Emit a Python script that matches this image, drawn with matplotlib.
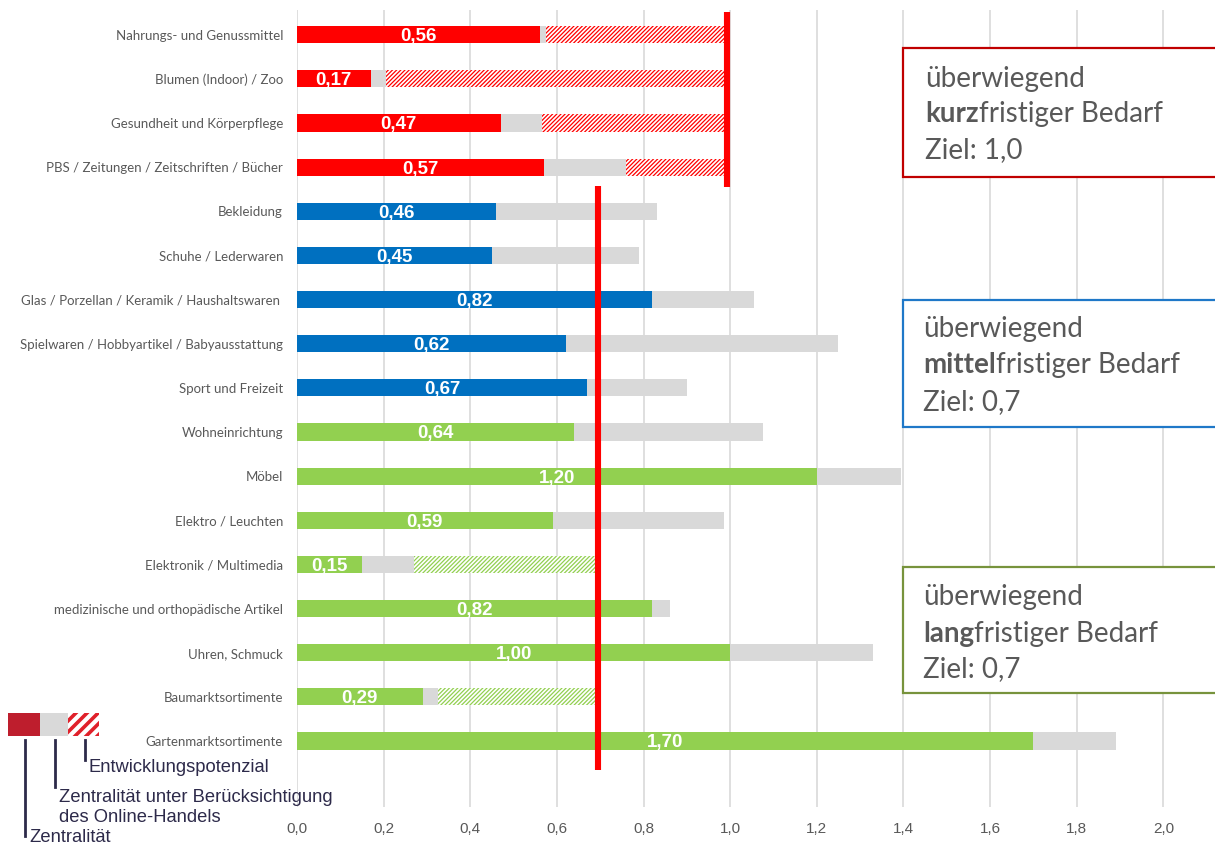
import matplotlib
matplotlib.use("Agg")
import matplotlib.pyplot as plt
from matplotlib.patches import Rectangle
from matplotlib.lines import Line2D

# ---------------- data ----------------
categories = [
    "Nahrungs- und Genussmittel",
    "Blumen (Indoor) / Zoo",
    "Gesundheit und Körperpflege",
    "PBS / Zeitungen / Zeitschriften / Bücher",
    "Bekleidung",
    "Schuhe / Lederwaren",
    "Glas / Porzellan / Keramik / Haushaltswaren ",
    "Spielwaren / Hobbyartikel / Babyausstattung",
    "Sport und Freizeit",
    "Wohneinrichtung",
    "Möbel",
    "Elektro / Leuchten",
    "Elektronik / Multimedia",
    "medizinische und orthopädische Artikel",
    "Uhren, Schmuck",
    "Baumarktsortimente",
    "Gartenmarktsortimente",
]
zentralitaet = [0.56, 0.17, 0.47, 0.57, 0.46, 0.45, 0.82, 0.62, 0.67,
                0.64, 1.20, 0.59, 0.15, 0.82, 1.00, 0.29, 1.70]
zentralitaet_online = [0.575, 0.205, 0.565, 0.76, 0.83, 0.79, 1.055, 1.25, 0.90,
                       1.075, 1.395, 0.985, 0.27, 0.86, 1.33, 0.325, 1.89]
group = ["kurz"] * 4 + ["mittel"] * 5 + ["lang"] * 8
ziel = {"kurz": 1.0, "mittel": 0.7, "lang": 0.7}
xticks = [0.0, 0.2, 0.4, 0.6, 0.8, 1.0, 1.2, 1.4, 1.6, 1.8, 2.0]

# ---------------- styles ----------------
colors = {"kurz": "#FF0000", "mittel": "#0070C0", "lang": "#92D050"}
grey = "#D9D9D9"
W, H = 1215, 848

fig = plt.figure(figsize=(W / 100, H / 100), dpi=100)
ax = fig.add_axes([297 / W, 1 - 807 / H, (W - 297) / W, (807 - 10) / H])

n = len(categories)
ypos = list(range(n))
bh = 0.39

plt.rcParams["hatch.linewidth"] = 0.9
for i in ypos:
    g = group[i]
    c = colors[g]
    v = zentralitaet[i]
    o = zentralitaet_online[i]
    t = ziel[g]
    ax.barh(i, v, height=bh, color=c, linewidth=0, zorder=3)
    ax.barh(i, o - v, left=v, height=bh, color=grey, linewidth=0, zorder=3)
    if o < t:
        ax.barh(i, t - o, left=o, height=bh, color="white", edgecolor=c,
                hatch="////////", linewidth=0, zorder=3)
    ax.text(v / 2, i, f"{v:.2f}".replace(".", ","), color="white",
            fontsize=13.5, fontweight="bold", family="Liberation Sans",
            ha="center", va="center_baseline", zorder=5)

# target lines
ax.plot([ziel["kurz"] - 0.008] * 2, [-0.52, 3.445], color="#FF0000", lw=4.4,
        solid_capstyle="butt", zorder=4)
ax.plot([ziel["lang"] - 0.005] * 2, [3.43, 16.66], color="#FF0000", lw=4.4,
        solid_capstyle="butt", zorder=4)

ax.set_xlim(0, (W - 296.7) / 433.3)
ax.set_ylim(n - 1 + 1.496, -0.56)
ax.set_xticks(xticks)
ax.set_xticklabels([f"{x:.1f}".replace(".", ",") for x in xticks],
                   family="Liberation Sans", fontsize=11, color="#595959")
ax.set_yticks(ypos)
ax.set_yticklabels(categories, family="Lato", fontsize=9.5, color="#595959")
ax.tick_params(axis="y", length=0, pad=10)
ax.tick_params(axis="x", length=0, pad=11)
ax.grid(axis="x", color="#D9D9D9", lw=1.2, zorder=0)
ax.set_axisbelow(True)
for s in ax.spines.values():
    s.set_visible(False)


def fx(px):
    return px / W


def fy(py):
    return 1 - py / H


# ---------------- boxes ----------------
boxes = [
    ("kurz", "Ziel: 1,0", "#C00000", 48.3, 177.3, 925, [87, 122, 158]),
    ("mittel", "Ziel: 0,7", "#1F78C8", 300, 426.7, 923, [336.7, 373.3, 410]),
    ("lang", "Ziel: 0,7", "#77933C", 566.7, 693.3, 923, [605, 641.7, 676.7]),
]
tcol = "#595959"
for bold, zl, ec, top, bot, tx, bl in boxes:
    fig.patches.append(Rectangle((fx(903), fy(bot)), fx(330), fy(top) - fy(bot),
                                 transform=fig.transFigure, facecolor="white",
                                 edgecolor=ec, lw=1.6, zorder=5))
    fig.text(fx(tx), fy(bl[0]), "überwiegend", family="Lato", fontsize=20,
             color=tcol, va="baseline", ha="left", zorder=6)
    tb = fig.text(fx(tx), fy(bl[1]), bold, family="Lato", fontsize=20,
                  fontweight="bold", color=tcol, va="baseline", ha="left", zorder=6)
    fig.text(fx(tx), fy(bl[2]), zl, family="Lato", fontsize=20,
             color=tcol, va="baseline", ha="left", zorder=6)
    fig.canvas.draw()
    bb = tb.get_window_extent()
    fig.text(bb.x1 / W, fy(bl[1]), "fristiger Bedarf", family="Lato", fontsize=20,
             color=tcol, va="baseline", ha="left", zorder=6)

# ---------------- legend ----------------
lcol = "#2D2A4A"
fig.patches.append(Rectangle((fx(8), fy(736)), fx(32), fy(713) - fy(736),
                             transform=fig.transFigure, facecolor="#BE1E2D",
                             lw=0, zorder=5))
fig.patches.append(Rectangle((fx(40), fy(736)), fx(28), fy(713) - fy(736),
                             transform=fig.transFigure, facecolor=grey,
                             lw=0, zorder=5))
with plt.rc_context({"hatch.linewidth": 2.6}):
    hp = Rectangle((fx(68), fy(736)), fx(31), fy(713) - fy(736),
                   transform=fig.transFigure, facecolor="white",
                   edgecolor="#E0202A", hatch="///", lw=0, zorder=5)
    fig.patches.append(hp)

for x0, y1 in [(25, 836), (55, 787), (85, 760)]:
    fig.add_artist(Line2D([fx(x0), fx(x0)], [fy(740), fy(y1)],
                          transform=fig.transFigure, color=lcol, lw=2, zorder=5))

lkw = dict(family="Liberation Sans", fontsize=13.2, color=lcol, ha="left",
           va="center", zorder=6)
fig.text(fx(89), fy(768), "Entwicklungspotenzial", **lkw)
fig.text(fx(59), fy(797), "Zentralität unter Berücksichtigung", **lkw)
fig.text(fx(59), fy(818), "des Online-Handels", **lkw)
fig.text(fx(29), fy(838), "Zentralität", **lkw)

fig.savefig("out.png", dpi=100)
